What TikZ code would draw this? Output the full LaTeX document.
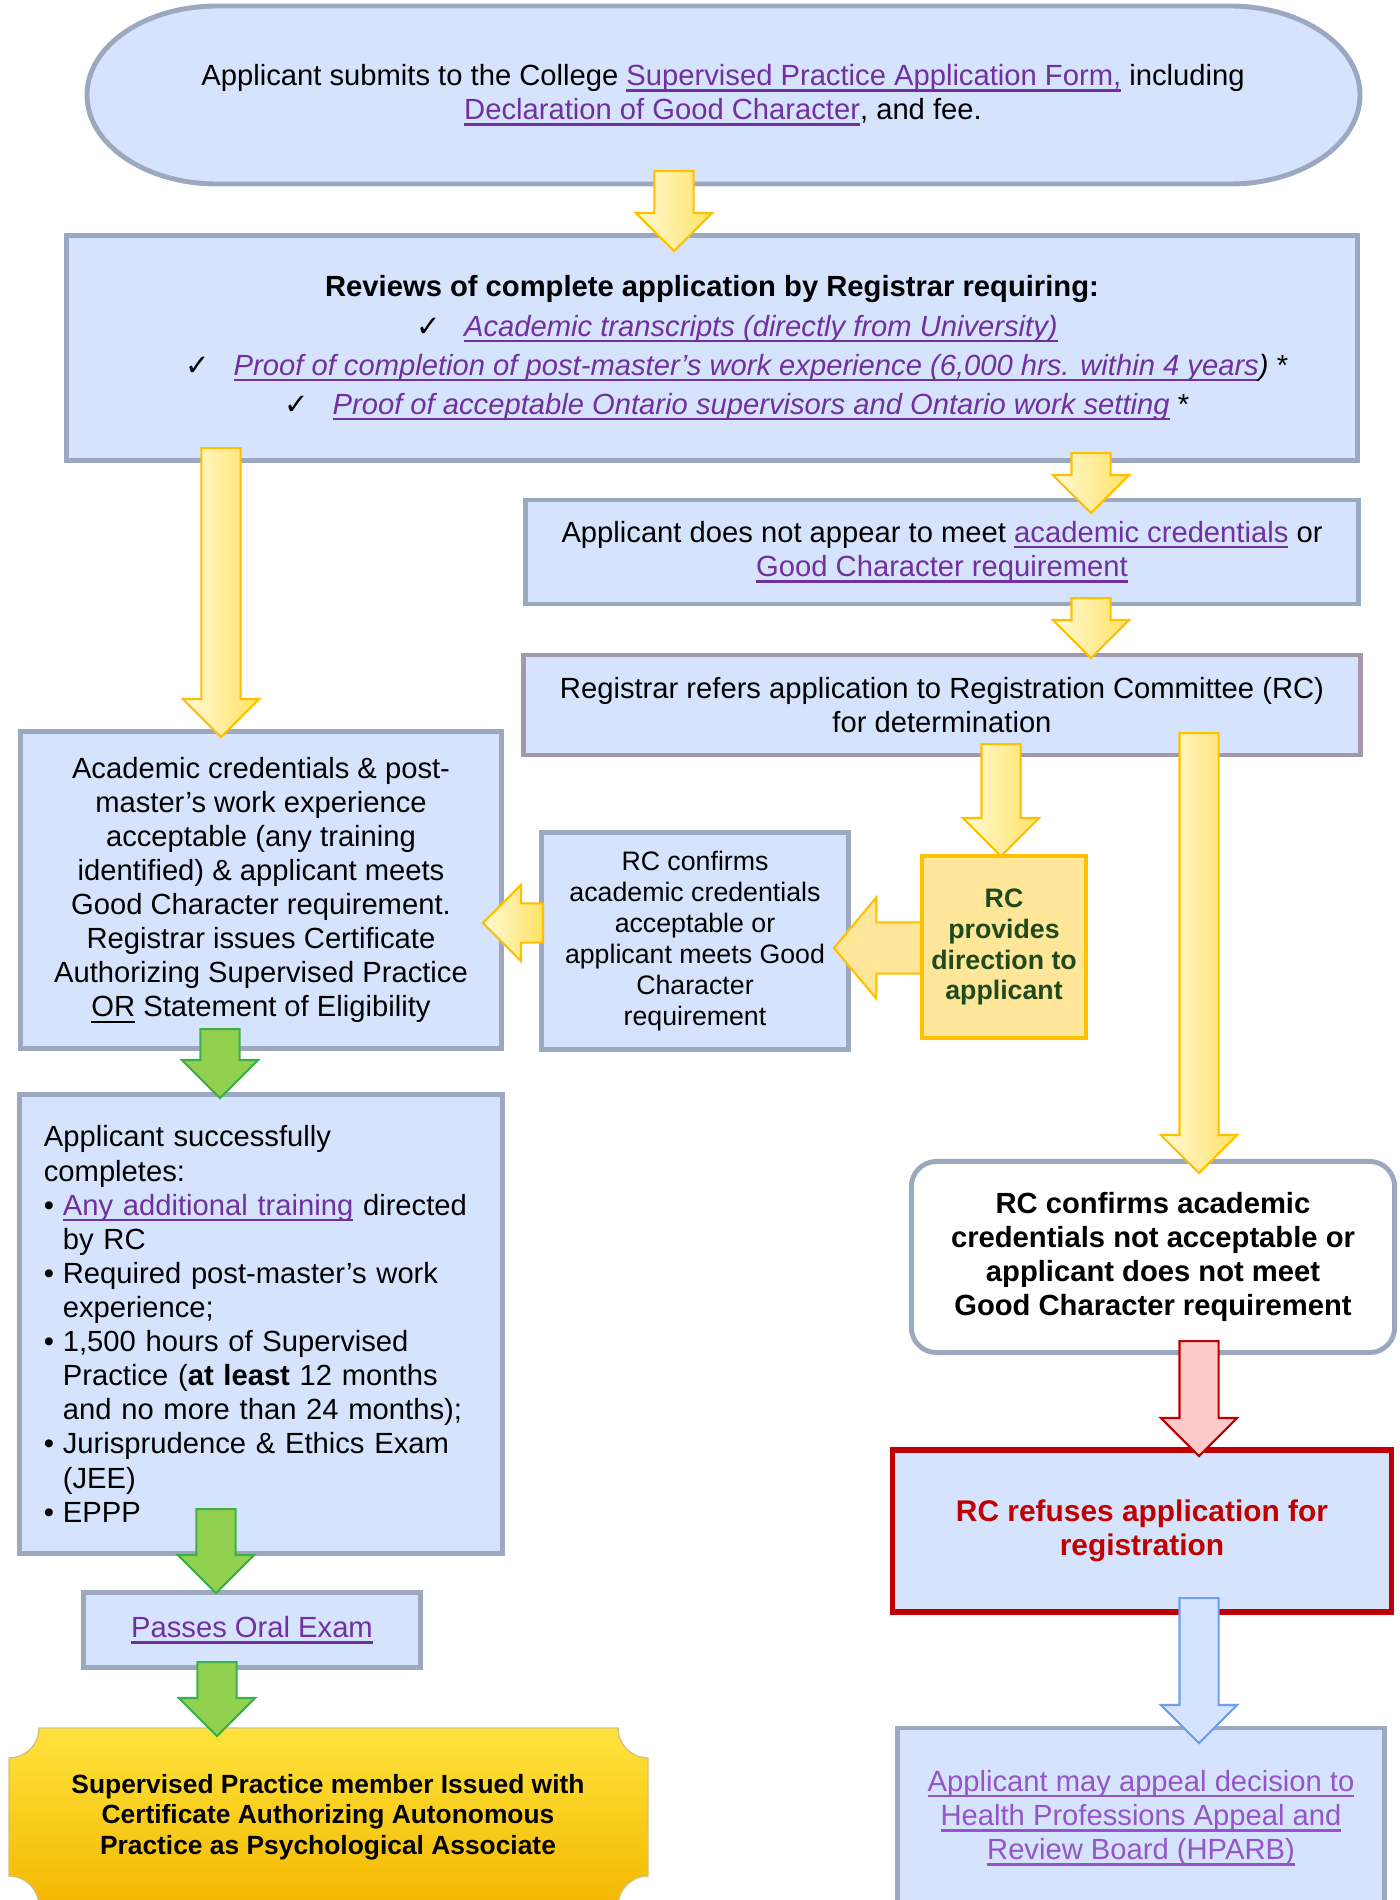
\documentclass[tikz,border=0pt]{standalone}
\usepackage{fontspec}
\setmainfont{Liberation Sans}
\newfontfamily\symf{DejaVu Sans}
\usetikzlibrary{shapes.arrows,calc}

\definecolor{boxfill}{HTML}{D6E3FC}
\definecolor{boxline}{HTML}{9CA8BF}
\definecolor{referline}{HTML}{A397A9}
\definecolor{linkpurple}{HTML}{7030A0}
\definecolor{appealpurple}{HTML}{9455C8}
\definecolor{goldline}{HTML}{FFC000}
\definecolor{palegold}{HTML}{FFFAD8}
\definecolor{deepgold}{HTML}{FFE262}
\definecolor{directfill}{HTML}{FFE699}
\definecolor{darkgreen}{HTML}{1E4A1E}
\definecolor{greenfill}{HTML}{92D050}
\definecolor{greenline}{HTML}{3DB04B}
\definecolor{redline}{HTML}{C00000}
\definecolor{pinkfill}{HTML}{FCCACA}
\definecolor{blueline}{HTML}{6E9EEC}
\definecolor{plaquetop}{HTML}{FFE43C}
\definecolor{plaquebottom}{HTML}{F3B700}

\newsavebox{\ulbox}
\newcommand{\uln}[1]{\sbox\ulbox{#1}\rlap{\rule[-1.7pt]{\wd\ulbox}{0.65pt}}\usebox\ulbox}
\newcommand{\lnk}[1]{\textcolor{linkpurple}{\uln{#1}}}
\newcommand{\applnk}[1]{\textcolor{appealpurple}{\uln{#1}}}
\newcommand{\chk}{\hspace*{0.5cm}{\symf ✓}\hspace{0.8em}}
\newcommand{\bul}{\makebox[0.19cm][l]{\textbullet}}
\newcommand{\ind}{\hspace*{0.19cm}}
\newcommand{\txtA}{\fontsize{8.3}{9.7}\selectfont}
\newcommand{\txtB}{\fontsize{7.6}{8.8}\selectfont}

% block arrow from one coordinate to another
\newcommand{\fatarrow}[3][]{%
  \path let \p1=($(#3)-(#2)$) in
    node[fat arrow,#1,anchor=tail,minimum height={veclen(\x1,\y1)},rotate={atan2(\y1,\x1)}]
    at (#2) {};}

\begin{document}
\begin{tikzpicture}[x=0.01cm,y=-0.01cm,
  flow box/.style={draw=boxline,fill=boxfill,line width=1.4pt,align=center,inner sep=0pt,font=\txtA},
  fat arrow/.style={single arrow,inner xsep=0pt,inner ysep=0.185cm,line width=0.6pt,
    single arrow head extend=0.185cm},
  gold arrow/.style={fat arrow,draw=goldline,left color=palegold,right color=deepgold},
  green arrow/.style={fat arrow,draw=greenline,fill=greenfill},
  red arrow/.style={fat arrow,draw=redline,fill=pinkfill},
  blue arrow/.style={fat arrow,draw=blueline,fill=boxfill}]

  \useasboundingbox (0,0) rectangle (1400,1900);
  \clip (0,0) rectangle (1400,1900);
  \fill[white] (0,0) rectangle (1400,1900);

  % stadium with oval ends
  \filldraw[draw=boxline,fill=boxfill,line width=1.4pt]
    (217,6) -- (1230,6) arc[start angle=-90,end angle=90,x radius=130,y radius=89]
    -- (217,184) arc[start angle=90,end angle=270,x radius=130,y radius=89] -- cycle;
  \node[align=center,font=\txtA] (submit) at (723,95)
    {Applicant submits to the College \lnk{Supervised Practice Application Form,} including\\
     \lnk{Declaration of Good Character}, and fee.};

  \node[flow box,minimum width=12.91cm,minimum height=2.25cm,font=\fontsize{8.3}{11.1}\selectfont] (review) at (712,348)
    {{\bfseries Reviews of complete application by Registrar requiring:}\\
     \chk{\itshape\lnk{Academic transcripts (directly from University)}}\\
     \chk{\itshape\lnk{Proof of completion of post-master’s work experience (6,000 hrs. within 4 years})} *\\
     \chk{\itshape\lnk{Proof of acceptable Ontario supervisors and Ontario work setting}} *};

  \node[flow box,minimum width=8.32cm,minimum height=1.04cm] (notmeet) at (942,552)
    {Applicant does not appear to meet \lnk{academic credentials} or\\
     \lnk{Good Character requirement}};

  \node[flow box,draw=referline,minimum width=8.36cm,minimum height=1cm] (refer) at (942,705)
    {Registrar refers application to Registration Committee (RC)\\ for determination};

  \node[flow box,minimum width=4.81cm,minimum height=3.16cm] (accept) at (261,890)
    {Academic credentials \& post-\\ master’s work experience\\ acceptable (any training\\
     identified) \& applicant meets\\ Good Character requirement.\\ Registrar issues Certificate\\
     Authorizing Supervised Practice\\ \uln{OR} Statement of Eligibility};

  \node[flow box,font=\txtB,minimum width=3.07cm,minimum height=2.17cm] (confirm) at (695,941)
    {RC confirms\\ academic credentials\\ acceptable or\\ applicant meets Good\\ Character\\ requirement};

  \node[flow box,draw=goldline,fill=directfill,line width=1.2pt,font=\txtB\bfseries,text=darkgreen,
    minimum width=1.64cm,minimum height=1.82cm] (direct) at (1004,947)
    {RC\\ provides\\ direction to\\ applicant};

  \node[flow box,fill=white,rounded corners=0.25cm,font=\txtA\bfseries,
    minimum width=4.83cm,minimum height=1.91cm] (notacc) at (1153,1257)
    {RC confirms academic\\ credentials not acceptable or\\ applicant does not meet\\ Good Character requirement};

  \node[flow box,align=left,text width=4.34cm,inner xsep=0.24cm,minimum height=4.58cm] (complete) at (261,1324)
    {Applicant successfully\\ completes:\\
     \bul\lnk{Any additional training} directed\\ \ind by RC\\
     \bul Required post-master’s work\\ \ind experience;\\
     \bul 1,500 hours of Supervised\\ \ind Practice (\textbf{at least} 12 months\\ \ind and no more than 24 months);\\
     \bul Jurisprudence \& Ethics Exam\\ \ind (JEE)\\
     \bul EPPP};

  \node[flow box,draw=redline,line width=1.6pt,text=redline,font=\fontsize{8.5}{9.5}\selectfont\bfseries,
    minimum width=4.99cm,minimum height=1.62cm] (refuse) at (1142,1531)
    {RC refuses application for\\ registration};

  \node[flow box,minimum width=3.37cm,minimum height=0.75cm] (oral) at (252,1630)
    {\lnk{Passes Oral Exam}};

  \node[flow box,minimum width=4.87cm,minimum height=1.8cm] (appeal) at (1141,1818)
    {\applnk{Applicant may appeal decision to}\\ \applnk{Health Professions Appeal and}\\
     \applnk{Review Board (HPARB)}};

  % gold plaque with concave corners
  \shade[top color=plaquetop,bottom color=plaquebottom,draw=plaquebottom!70!black!50]
    (39,1728) -- (618,1728) arc[start angle=180,end angle=90,radius=30]
    -- (648,1876) arc[start angle=270,end angle=180,radius=30]
    -- (39,1906) arc[start angle=0,end angle=-90,radius=30]
    -- (9,1758) arc[start angle=90,end angle=0,radius=30] -- cycle;
  \node[align=center,font=\fontsize{7.5}{8.6}\selectfont\bfseries] (issued) at (328,1817)
    {Supervised Practice member Issued with\\ Certificate Authorizing Autonomous\\
     Practice as Psychological Associate};

  % arrow ends
  \coordinate (a1t) at (674,170);   \coordinate (a1h) at (674,250);
  \coordinate (a2t) at (1091,452);  \coordinate (a2h) at (1091,512);
  \coordinate (a3t) at (1091,597);  \coordinate (a3h) at (1091,657);
  \coordinate (a4t) at (221,447);   \coordinate (a4h) at (221,736);
  \coordinate (a5t) at (1001,743);  \coordinate (a5h) at (1001,855);
  \coordinate (a6t) at (1199,732);  \coordinate (a6h) at (1199,1172);
  \coordinate (a7t) at (922,948);   \coordinate (a7h) at (835,948);
  \coordinate (a8t) at (544,923);   \coordinate (a8h) at (484,923);
  \coordinate (a9t) at (220,1028);  \coordinate (a9h) at (220,1097);
  \coordinate (a10t) at (216,1508); \coordinate (a10h) at (216,1592);
  \coordinate (a11t) at (217,1661); \coordinate (a11h) at (217,1735);
  \coordinate (a12t) at (1199,1340); \coordinate (a12h) at (1199,1455);
  \coordinate (a13t) at (1199,1597); \coordinate (a13h) at (1199,1742);

  \fatarrow[gold arrow]{a1t}{a1h}
  \fatarrow[gold arrow]{a2t}{a2h}
  \fatarrow[gold arrow]{a3t}{a3h}
  \fatarrow[gold arrow]{a4t}{a4h}
  \fatarrow[gold arrow]{a5t}{a5h}
  \fatarrow[gold arrow]{a6t}{a6h}
  \fatarrow[fat arrow,draw=goldline,fill=directfill,inner ysep=0.245cm,
    single arrow head extend=0.25cm,single arrow tip angle=100]{a7t}{a7h}
  \fatarrow[gold arrow]{a8t}{a8h}
  \fatarrow[green arrow]{a9t}{a9h}
  \fatarrow[green arrow]{a10t}{a10h}
  \fatarrow[green arrow]{a11t}{a11h}
  \fatarrow[red arrow]{a12t}{a12h}
  \fatarrow[blue arrow]{a13t}{a13h}

\end{tikzpicture}
\end{document}
